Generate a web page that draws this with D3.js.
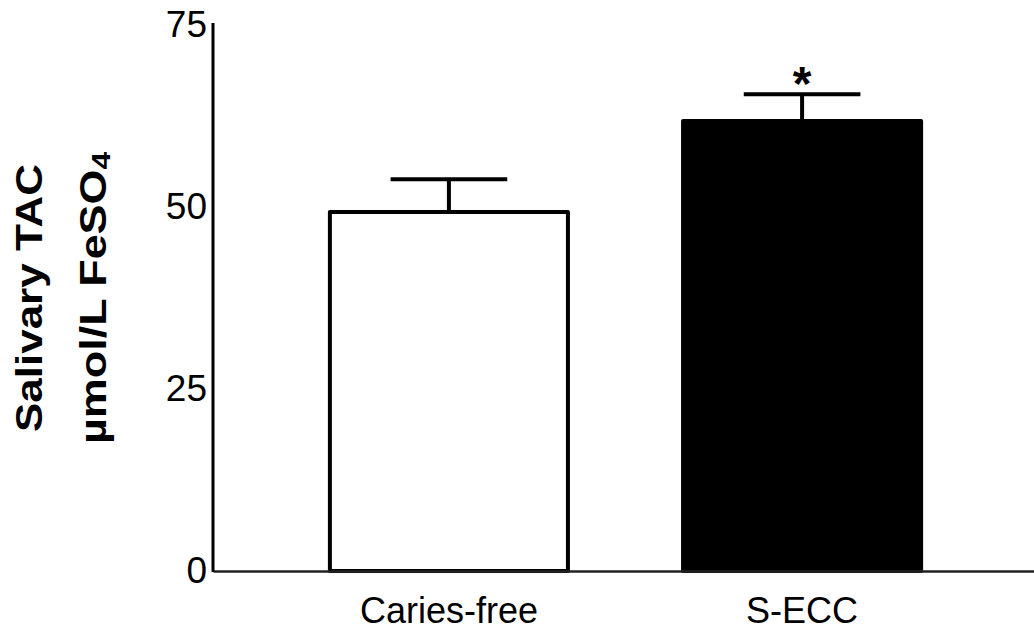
<!DOCTYPE html>
<html>
<head>
<meta charset="utf-8">
<script src="https://cdn.jsdelivr.net/npm/d3@7"></script>
<style>
body{margin:0;background:#fff;}
text{font-family:"Liberation Sans",Arial,Helvetica,sans-serif;fill:#000;}
</style>
</head>
<body>
<div class="chart"></div>
<script>
// data
var categories=["Caries-free","S-ECC"];
var means=[49.3,61.8];
var errors=[4.5,3.7];
var fills=["#fff","#000"];
var marks=["","*"];
var yTicks=[0,25,50,75];

var width=1034,height=635;
var svg=d3.select('div.chart')
		.append('svg')
		.attr('width',width)
		.attr('height',height);

var x=d3.scaleBand()
		.domain(categories)
		.range([213,1038])
		.paddingInner(0.326)
		.paddingOuter(0.331);
var y=d3.scaleLinear()
		.domain([0,75])
		.range([571,25]);

var data=categories.map(function(c,i){
	return {name:c,mean:means[i],err:errors[i],fill:fills[i],mark:marks[i]};
});

//柱子
svg.selectAll('rect.bar')
	.data(data)
	.enter()
	.append('rect')
	.attr('class','bar')
	.attr('x',function(d){return x(d.name);})
	.attr('y',function(d){return y(d.mean);})
	.attr('width',x.bandwidth())
	.attr('height',function(d){return y(0)-y(d.mean);})
	.attr('fill',function(d){return d.fill;})
	.attr('stroke','#000')
	.attr('stroke-width',4)
	.attr('stroke-linejoin','round');

//误差线
var capW=x.bandwidth()*0.49;
var eb=svg.selectAll('g.err')
	.data(data)
	.enter()
	.append('g')
	.attr('class','err')
	.attr('stroke','#000')
	.attr('stroke-width',4);
eb.append('line')
	.attr('x1',function(d){return x(d.name)+x.bandwidth()/2;})
	.attr('x2',function(d){return x(d.name)+x.bandwidth()/2;})
	.attr('y1',function(d){return y(d.mean);})
	.attr('y2',function(d){return y(d.mean+d.err);});
eb.append('line')
	.attr('x1',function(d){return x(d.name)+x.bandwidth()/2-capW/2;})
	.attr('x2',function(d){return x(d.name)+x.bandwidth()/2+capW/2;})
	.attr('y1',function(d){return y(d.mean+d.err);})
	.attr('y2',function(d){return y(d.mean+d.err);});

//显著性标记
svg.selectAll('text.mark')
	.data(data)
	.enter()
	.append('text')
	.attr('class','mark')
	.attr('x',function(d){return x(d.name)+x.bandwidth()/2;})
	.attr('y',function(d){return y(d.mean+d.err)+6;})
	.attr('text-anchor','middle')
	.style('font-size','48px')
	.style('font-weight','bold')
	.text(function(d){return d.mark;});

//坐标轴
var xAxis=svg.append('g')
	.attr('transform','translate(0,'+y(0)+')')
	.call(d3.axisBottom(x).tickSize(0).tickPadding(26));
xAxis.select('.domain').attr('stroke','#222').attr('stroke-width',2.5);
xAxis.selectAll('text').style('font-size','36px').attr('font-family',null);

var yAxis=svg.append('g')
	.attr('transform','translate(213,0)')
	.call(d3.axisLeft(y).tickValues(yTicks).tickSize(0).tickPadding(6));
yAxis.select('.domain').attr('stroke','#000').attr('stroke-width',3)
	.attr('d','M0,'+(y(0)+1)+'V'+(y(75)-2));
yAxis.selectAll('text').style('font-size','37px').attr('font-family',null);

//纵轴标题
var yl=svg.append('g')
	.attr('transform','translate(0,'+(y(0)+y(75))/2+') rotate(-90)');
yl.append('text')
	.attr('x',0).attr('y',42)
	.attr('text-anchor','middle')
	.attr('textLength',268)
	.attr('lengthAdjust','spacingAndGlyphs')
	.style('font-size','37px')
	.style('font-weight','bold')
	.text('Salivary TAC');
var t2=yl.append('text')
	.attr('x',0).attr('y',106)
	.attr('text-anchor','middle')
	.attr('textLength',292)
	.attr('lengthAdjust','spacingAndGlyphs')
	.style('font-size','37px')
	.style('font-weight','bold');
t2.append('tspan').text('\u00b5mol/L FeSO');
t2.append('tspan').attr('dy',4).style('font-size','26px').text('4');
</script>
</body>
</html>
